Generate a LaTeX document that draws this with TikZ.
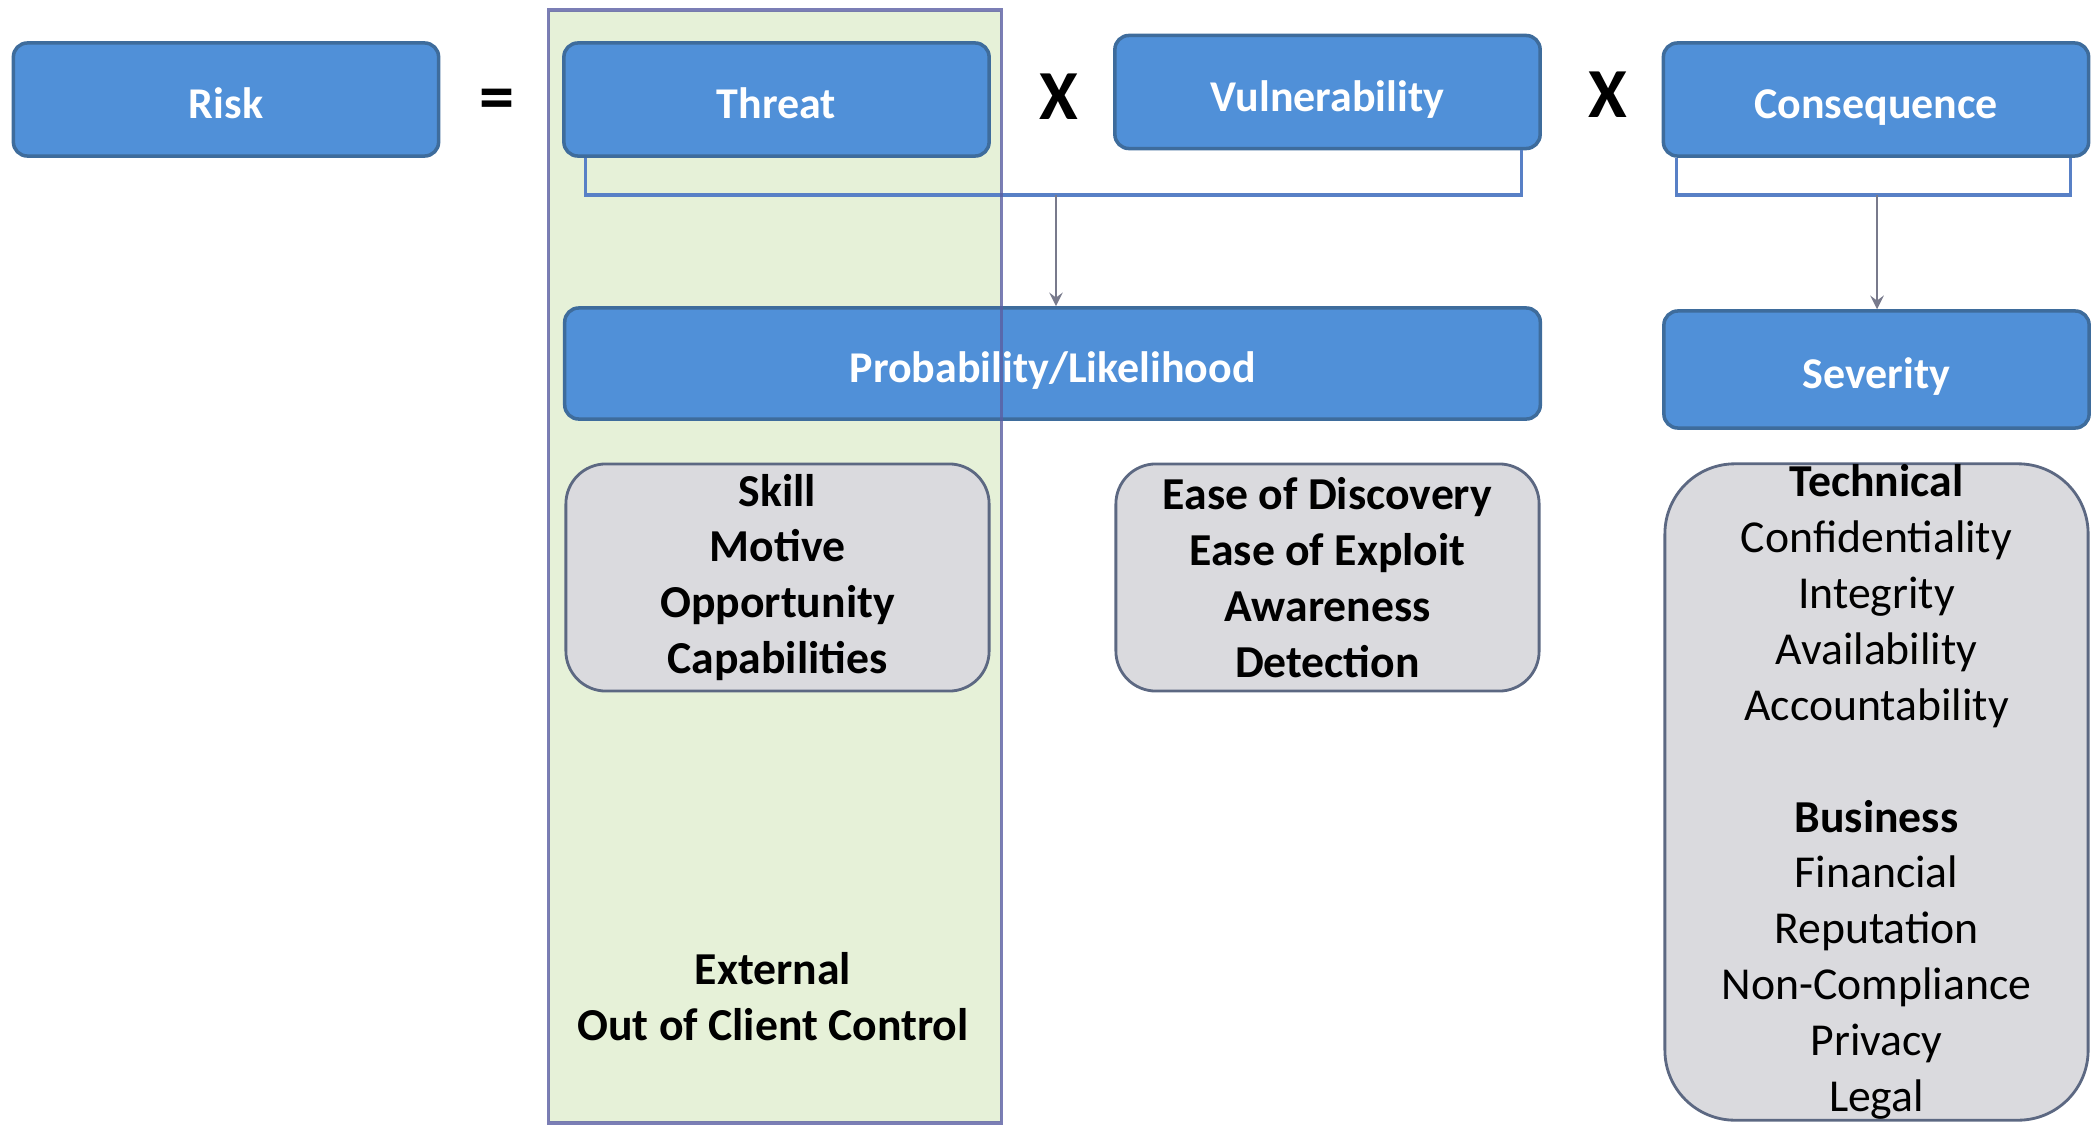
\documentclass[tikz,border=0pt]{standalone}
\usepackage{fontspec}
\setmainfont{Carlito}
\usepackage{tikz}

\definecolor{boxblue}{RGB}{80,144,216}
\definecolor{boxedge}{RGB}{62,108,156}
\definecolor{linkblue}{RGB}{88,128,198}
\definecolor{linkgrey}{RGB}{120,122,140}
\definecolor{boxgrey}{RGB}{218,218,222}
\definecolor{greyedge}{RGB}{92,104,130}
\definecolor{bandgreen}{RGB}{230,241,216}
\definecolor{bandedge}{RGB}{90,94,162}

\begin{document}
\begin{tikzpicture}[x=0.01cm,y=-0.01cm,
        bluebox/.style={rectangle,rounded corners=0.14cm,draw=boxedge,line width=1pt,
            fill=boxblue,text=white,font=\fontsize{12.5}{15}\selectfont\bfseries,
            text height=0.38cm,text depth=0pt,
            minimum width=4.25cm,minimum height=1.13cm,inner sep=0pt},
        greybox/.style={rectangle,rounded corners=0.4cm,draw=greyedge,line width=0.8pt,
            fill=boxgrey,align=center,font=\fontsize{13}{15.9}\selectfont,
            minimum width=4.23cm,inner sep=0pt},
        op/.style={font=\fontsize{20}{24}\selectfont\bfseries},
        band/.style={rectangle,fill=bandgreen,minimum width=4.52cm,minimum height=11.11cm,inner sep=0pt},
        bracket/.style={draw=linkblue,line width=0.9pt},
        link/.style={->,>=stealth,draw=linkgrey,line width=0.7pt}]
        \useasboundingbox (0,0) rectangle (2091,1124);

        % threat column behind everything
        \node (threatcol) [band] at (775,566.5) {};

        % top row
        \node (risk) [bluebox] at (226,99.5) {Risk};
        \node (eq) [op] at (497,105) {=};
        \node (threat) [bluebox] at (776.5,99.5) {Threat};
        \node (times1) [op] at (1059,97) {X};
        \node (vuln) [bluebox] at (1327.5,92) {Vulnerability};
        \node (times2) [op] at (1608,95) {X};
        \node (conseq) [bluebox] at (1876,99.5) {Consequence};

        % second row
        \node (prob) [bluebox,minimum width=9.75cm,minimum height=1.11cm] at (1052.5,363.5) {Probability/Likelihood};
        \node (sev) [bluebox,minimum height=1.17cm] at (1876.5,369.5) {Severity};

        \coordinate (join) at (1056,195);
        \coordinate (cjoin) at (1877,195);
        \draw [bracket] ([xshift=0.23cm]threat.south west) |- (join) -| ([xshift=-0.2cm]vuln.south east);
        \draw [link] (join) -- (join |- prob.north);
        \draw [bracket] ([xshift=0.15cm]conseq.south west) |- (cjoin) -| ([xshift=-0.2cm]conseq.south east);
        \draw [link] (cjoin) -- (cjoin |- sev.north);

        % factor boxes
        \node (skill) [greybox,minimum height=2.27cm,font=\fontsize{13}{15.9}\selectfont\bfseries] at (777.5,577.5)
            {Skill\\Motive\\Opportunity\\Capabilities};
        \node (ease) [greybox,minimum height=2.27cm,font=\fontsize{13}{15.9}\selectfont\bfseries] at (1327.5,577.5)
            {Ease of Discovery\\Ease of Exploit\\Awareness\\Detection};
        \node (impact) [greybox,rounded corners=0.7cm,minimum height=6.56cm] at (1876.5,792)
            {\textbf{Technical}\\Confidentiality\\Integrity\\Availability\\Accountability\\[15.9pt]
             \textbf{Business}\\Financial\\Reputation\\Non-Compliance\\Privacy\\Legal};

        \node (external) [align=center,font=\fontsize{13}{15.9}\selectfont\bfseries] at (773,997)
            {External\\Out of Client Control};

        % column frame stays on top
        \draw [bandedge,line width=0.9pt,opacity=0.8] (threatcol.south west) rectangle (threatcol.north east);
    \end{tikzpicture}
\end{document}
